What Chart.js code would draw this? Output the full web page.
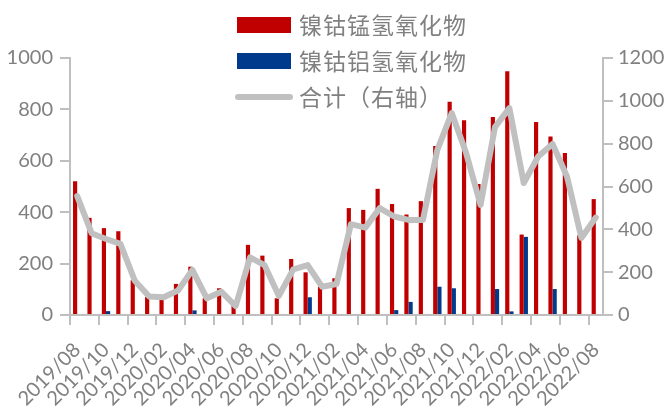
<!DOCTYPE html>
<html lang="zh-CN">
<head>
<meta charset="utf-8" />
<title>氢氧化物月度出口</title>
<script src="https://cdn.jsdelivr.net/npm/chart.js@4/dist/chart.umd.min.js"></script>
<style>
  html, body { margin: 0; padding: 0; background: #fff; }
  #wrap { width: 666px; height: 412px; }
</style>
</head>
<body>
<div id="wrap"><canvas id="chart" width="666" height="412"></canvas></div>
<script>
// months, 2019/08 .. 2022/08
const months = [
  '2019/08','2019/09','2019/10','2019/11','2019/12',
  '2020/01','2020/02','2020/03','2020/04','2020/05','2020/06','2020/07','2020/08','2020/09','2020/10','2020/11','2020/12',
  '2021/01','2021/02','2021/03','2021/04','2021/05','2021/06','2021/07','2021/08','2021/09','2021/10','2021/11','2021/12',
  '2022/01','2022/02','2022/03','2022/04','2022/05','2022/06','2022/07','2022/08'
];

// 镍钴锰氢氧化物 (left axis)
const ncmValues = [
  520, 378, 338, 326, 135,
  70, 70, 121, 188, 65, 104, 35, 273, 231, 65, 218, 166,
  110, 143, 416, 409, 491, 432, 391, 443, 658, 830, 758, 510,
  770, 948, 313, 751, 695, 630, 310, 451
];

// 镍钴铝氢氧化物 (left axis)
const ncaValues = [
  null, null, 15, null, null,
  null, null, null, 18, null, null, null, null, null, null, null, 69,
  null, null, null, null, null, 19, 51, null, 110, 104, null, null,
  101, 14, 304, null, 101, null, null, null
];

// 合计 (right axis)
const totalValues = [
  555, 382, 355, 332, 160,
  86, 83, 114, 210, 78, 109, 42, 269, 233, 89, 213, 233,
  132, 145, 424, 408, 499, 460, 444, 444, 771, 943, 756, 514,
  877, 966, 616, 740, 799, 647, 360, 455
];

const leftTicks = [0, 200, 400, 600, 800, 1000];
const rightTicks = [0, 200, 400, 600, 800, 1000, 1200];

const RED = '#c00000';
const BLUE = '#003a8c';
const LINE_GREY = '#c0c0c0';
const AXIS_GREY = '#bfbfbf';
const TEXT_GREY = '#808080';

// legend sits over the top of the plot, so draw it by hand
const legendPlugin = {
  id: 'sideLegend',
  afterDraw(chart) {
    const ctx = chart.ctx;
    const items = [
      { text: '镍钴锰氢氧化物', kind: 'box', color: RED, y: 25 },
      { text: '镍钴铝氢氧化物', kind: 'box', color: BLUE, y: 61 },
      { text: '合计（右轴）', kind: 'line', color: LINE_GREY, y: 97 }
    ];
    ctx.save();
    ctx.font = '23px "Noto Sans CJK SC"';
    ctx.textBaseline = 'middle';
    for (const it of items) {
      if (it.kind === 'box') {
        ctx.fillStyle = it.color;
        ctx.fillRect(237, it.y - 8, 54, 16);
      } else {
        ctx.strokeStyle = it.color;
        ctx.lineWidth = 6;
        ctx.lineCap = 'round';
        ctx.beginPath();
        ctx.moveTo(238, it.y);
        ctx.lineTo(290, it.y);
        ctx.stroke();
      }
      ctx.fillStyle = TEXT_GREY;
      ctx.letterSpacing = '1px';
      ctx.fillText(it.text, 299, it.y);
    }
    ctx.restore();
  }
};

const tickFont = { family: 'Lato', size: 20 };

new Chart(document.getElementById('chart'), {
  type: 'bar',
  data: {
    labels: months,
    datasets: [
      {
        type: 'line',
        label: '合计（右轴）',
        data: totalValues,
        yAxisID: 'y1',
        borderColor: LINE_GREY,
        borderWidth: 6,
        pointRadius: 0,
        tension: 0,
        borderJoinStyle: 'round',
        borderCapStyle: 'round',
        order: 0
      },
      {
        label: '镍钴锰氢氧化物',
        data: ncmValues,
        backgroundColor: RED,
        yAxisID: 'y',
        categoryPercentage: 0.58,
        barPercentage: 1,
        order: 1
      },
      {
        label: '镍钴铝氢氧化物',
        data: ncaValues,
        backgroundColor: BLUE,
        yAxisID: 'y',
        categoryPercentage: 0.58,
        barPercentage: 1,
        order: 1
      }
    ]
  },
  options: {
    responsive: false,
    animation: false,
    layout: { padding: { top: 58, left: 0, right: 0, bottom: 0 } },
    plugins: {
      legend: { display: false },
      tooltip: { enabled: false }
    },
    scales: {
      x: {
        offset: true,
        grid: {
          offset: true,
          drawOnChartArea: false,
          tickLength: 10,
          lineWidth: 2,
          color: (c) => (c.index !== undefined && c.index % 2 === 0) ? AXIS_GREY : 'rgba(0,0,0,0)'
        },
        border: { color: AXIS_GREY, width: 2 },
        ticks: {
          autoSkip: false,
          minRotation: 45,
          maxRotation: 45,
          padding: 13,
          color: TEXT_GREY,
          font: tickFont,
          callback: (v, i) => (i % 2 === 0 ? months[i] : '')
        },
        afterFit: (s) => { s.height = 97; }
      },
      y: {
        position: 'left',
        min: 0,
        max: 1000,
        afterBuildTicks: (s) => { s.ticks = leftTicks.map((v) => ({ value: v })); },
        grid: { drawOnChartArea: false, tickLength: 10, lineWidth: 2, color: AXIS_GREY },
        border: { color: AXIS_GREY, width: 2 },
        ticks: { color: TEXT_GREY, font: tickFont, padding: 7, callback: (v) => String(v) },
        afterFit: (s) => { s.width = 70; }
      },
      y1: {
        position: 'right',
        min: 0,
        max: 1200,
        afterBuildTicks: (s) => { s.ticks = rightTicks.map((v) => ({ value: v })); },
        grid: { drawOnChartArea: false, tickLength: 10, lineWidth: 2, color: AXIS_GREY },
        border: { color: AXIS_GREY, width: 2 },
        ticks: { color: TEXT_GREY, font: tickFont, padding: 5, callback: (v) => String(v) },
        afterFit: (s) => { s.width = 63; }
      }
    }
  },
  plugins: [legendPlugin]
});
</script>
</body>
</html>
